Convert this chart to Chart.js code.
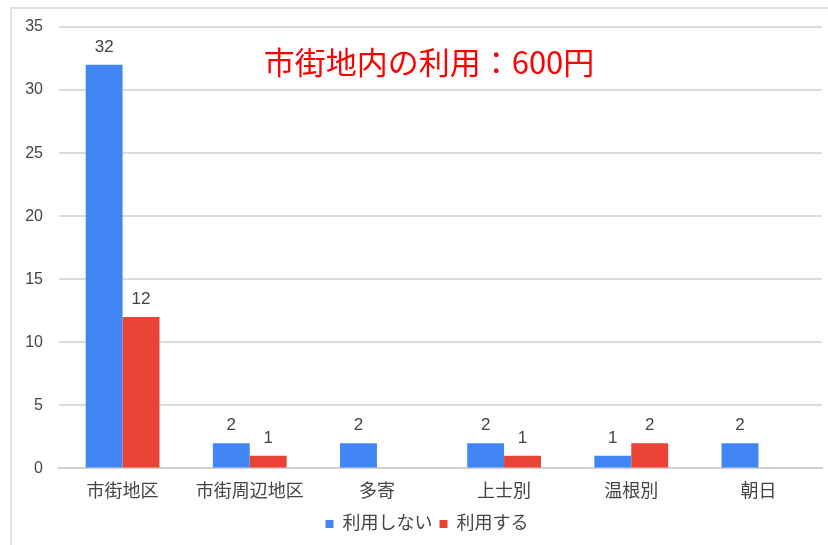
<!DOCTYPE html>
<html>
<head>
<meta charset="utf-8">
<script src="https://cdn.jsdelivr.net/npm/chart.js@4"></script>
<style>
  html, body { margin: 0; padding: 0; background: #fff; }
  #wrap { position: relative; width: 828px; height: 545px; overflow: hidden; }
  #frame { position: absolute; left: 10px; top: 7px; width: 840px; height: 560px; border: 2px solid #e0e0e0; box-sizing: border-box; }
  #chart { position: absolute; left: 0; top: 0; }
  #note { position: absolute; left: 0; width: 858px; top: 39px; text-align: center; color: #ff0000;
          font: 31px "Noto Sans CJK JP", sans-serif; line-height: 44px; }
</style>
</head>
<body>
<div id="wrap">
  <div id="frame"></div>
  <canvas id="chart" width="828" height="545"></canvas>
  <div id="note">市街地内の利用：600円</div>
</div>
<script>
// === DATA ===
const categories = ['市街地区', '市街周辺地区', '多寄', '上士別', '温根別', '朝日'];
const notUsing = [32, 2, 2, 2, 1, 2];
const using = [12, 1, 0, 1, 2, 0];
const seriesNames = ['利用しない', '利用する'];
const yTicks = [0, 5, 10, 15, 20, 25, 30, 35];

const FONT = '"Liberation Sans", Arial, "Noto Sans CJK JP", sans-serif';

// value labels above bars (skip zeros)
const valueLabels = {
    id: 'valueLabels',
    afterDatasetsDraw(chart) {
        const ctx = chart.ctx;
        ctx.save();
        ctx.fillStyle = '#444';
        ctx.font = '17px ' + FONT;
        ctx.textAlign = 'center';
        ctx.textBaseline = 'bottom';
        chart.data.datasets.forEach((ds, i) => {
            chart.getDatasetMeta(i).data.forEach((bar, j) => {
                const v = ds.data[j];
                if (!v) return;
                ctx.fillText(String(v), bar.x, bar.y - 9);
            });
        });
        ctx.restore();
    }
};

// the legend sits a little right of the canvas centre
const legendShift = {
    id: 'legendShift',
    afterLayout(chart) {
        chart.legend.left += 16;
        chart.legend.right += 16;
    }
};

new Chart(document.getElementById('chart'), {
    type: 'bar',
    data: {
        labels: categories,
        datasets: [
            { label: seriesNames[0], data: notUsing, backgroundColor: '#4285F4' },
            { label: seriesNames[1], data: using, backgroundColor: '#EA4335' }
        ]
    },
    options: {
        responsive: false,
        animation: false,
        devicePixelRatio: 1,
        layout: { padding: { top: 27, right: 6, bottom: 2, left: 0 } },
        datasets: { bar: { categoryPercentage: 0.58, barPercentage: 1 } },
        plugins: {
            legend: {
                position: 'bottom',
                labels: {
                    color: '#444',
                    font: { size: 18, family: FONT },
                    boxWidth: 8,
                    boxHeight: 8,
                    padding: 7
                }
            },
            tooltip: { enabled: false }
        },
        scales: {
            y: {
                min: 0,
                max: 35,
                afterFit: (s) => { s.width = 59; },
                afterBuildTicks: (s) => { s.ticks = yTicks.map(v => ({ value: v })); },
                grid: { color: '#dcdcdc', lineWidth: 2, drawTicks: false },
                border: { display: false },
                ticks: { color: '#444', font: { size: 16, family: FONT }, padding: 16 }
            },
            x: {
                grid: { display: false },
                border: { color: '#d0d0d0', width: 2 },
                ticks: { color: '#444', font: { size: 18, family: FONT }, padding: 5 }
            }
        }
    },
    plugins: [valueLabels, legendShift]
});
</script>
</body>
</html>
